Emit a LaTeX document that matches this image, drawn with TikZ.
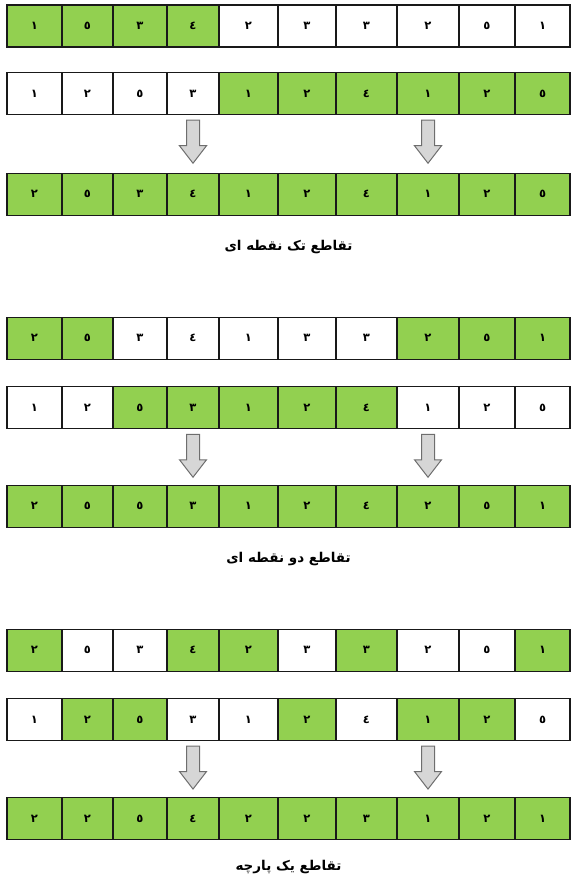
\documentclass[tikz,border=0pt]{standalone}
\usepackage{fontspec}
\newfontfamily\arabicfont[Script=Arabic]{DejaVu Sans}
\TeXXeTstate=1
\usetikzlibrary{calc}
\definecolor{G}{HTML}{92D050}
\definecolor{W}{HTML}{FFFFFF}
\definecolor{arrowfill}{HTML}{D6D6D6}
\definecolor{arrowline}{HTML}{6E6E6E}
\tikzset{
  cell/.style={draw=black!90, line width=1.1pt, minimum height=42pt, inner sep=0pt,
    font=\arabicfont\bfseries\fontsize{11.5}{13}\selectfont},
  caption/.style={font=\arabicfont\bfseries\fontsize{13.5}{15}\selectfont, inner sep=0pt},
  blockarrow/.style={draw=arrowline, fill=arrowfill, line width=1pt, line join=miter},
}
\newcommand\xbounds{{7,62,113,167,219,278,336,397,459,515,570}}
\newcommand\cellrow[3]{%
  \foreach [count=\i] \d/\c in {#3} {
    \pgfmathsetmacro\xl{\xbounds[\i-1]}
    \pgfmathsetmacro\xr{\xbounds[\i]}
    \pgfmathsetmacro\w{\xr-\xl}
    \pgfmathsetmacro\xc{(\xl+\xr)/2}
    \node[cell, fill=\c, minimum width=\w pt] (#1\i) at (\xc, {-(#2+21)}) {\d};
  }}
\newcommand\blkarrow[1]{%
  \draw[blockarrow] ($(#1.south)+(-6.5,-5)$) -- ++(13,0) -- ++(0,-25.5) -- ++(7,0)
    -- ++(-13.5,-17.5) -- ++(-13.5,17.5) -- ++(7,0) -- cycle;}
\begin{document}
\begin{tikzpicture}[x=1pt,y=1pt]
\useasboundingbox (0,0) rectangle (571,-882);
% section 1
\cellrow{sa}{5}{١/G,٥/G,٣/G,٤/G,٢/W,٣/W,٣/W,٢/W,٥/W,١/W}
\cellrow{sb}{72.7}{١/W,٢/W,٥/W,٣/W,١/G,٢/G,٤/G,١/G,٢/G,٥/G}
\cellrow{sc}{173.3}{٢/G,٥/G,٣/G,٤/G,١/G,٢/G,٤/G,١/G,٢/G,٥/G}
\blkarrow{sb4}
\blkarrow{sb8}
\node[caption] (cap1) at (288.5,-247) {\beginR تقاطع تک نقطه ای\endR};
% section 2
\cellrow{ta}{317.3}{٢/G,٥/G,٣/W,٤/W,١/W,٣/W,٣/W,٢/G,٥/G,١/G}
\cellrow{tb}{386.7}{١/W,٢/W,٥/G,٣/G,١/G,٢/G,٤/G,١/W,٢/W,٥/W}
\cellrow{tc}{485.3}{٢/G,٥/G,٥/G,٣/G,١/G,٢/G,٤/G,٢/G,٥/G,١/G}
\blkarrow{tb4}
\blkarrow{tb8}
\node[caption] (cap2) at (288.5,-559) {\beginR تقاطع دو نقطه ای\endR};
% section 3
\cellrow{ua}{629.3}{٢/G,٥/W,٣/W,٤/G,٢/G,٣/W,٣/G,٢/W,٥/W,١/G}
\cellrow{ub}{698.5}{١/W,٢/G,٥/G,٣/W,١/W,٢/G,٤/W,١/G,٢/G,٥/W}
\cellrow{uc}{797.5}{٢/G,٢/G,٥/G,٤/G,٢/G,٢/G,٣/G,١/G,٢/G,١/G}
\blkarrow{ub4}
\blkarrow{ub8}
\node[caption] (cap3) at (288.5,-867) {\beginR تقاطع یک پارچه\endR};
\end{tikzpicture}
\end{document}
